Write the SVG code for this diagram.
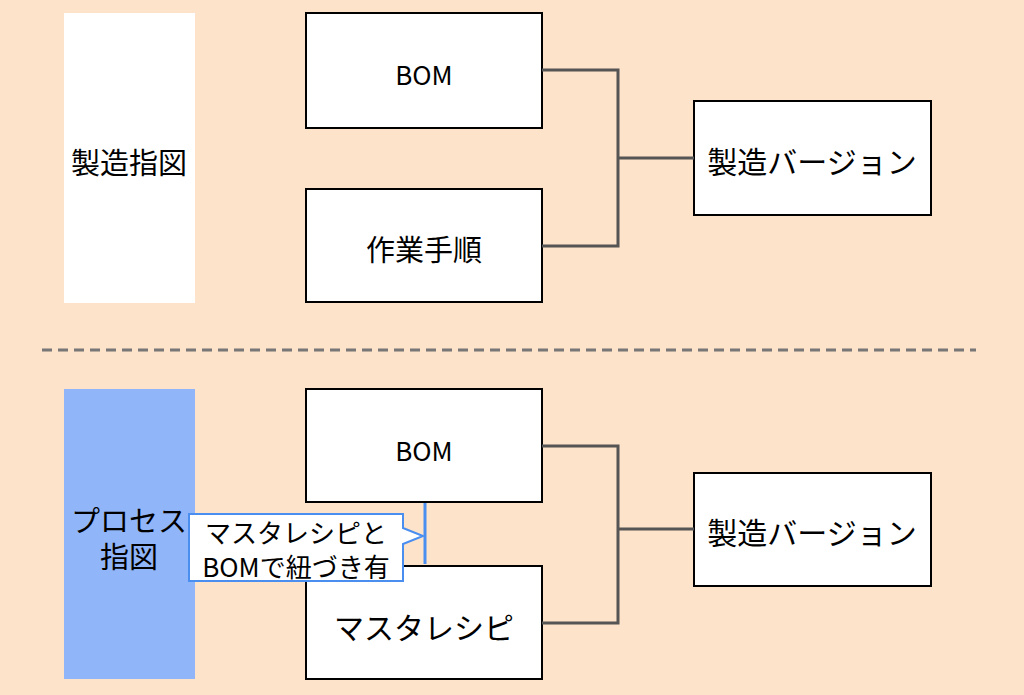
<svg xmlns="http://www.w3.org/2000/svg" width="1024" height="695" viewBox="0 0 1024 695">
<style>
.box{fill:#fff;stroke:#000;stroke-width:2}
.t{font-family:"Noto Sans CJK JP","Noto Sans",sans-serif;font-size:30px;fill:#000;text-anchor:middle;dominant-baseline:central}
.c{fill:none;stroke:#555;stroke-width:3}
</style>
<rect width="1024" height="695" fill="#fce3c9"/>
<g id="seizo-shizu"><rect x="64" y="13" width="131" height="290" fill="#fff"/><text class="t" x="129" y="161" style="font-size:29px">製造指図</text></g>
<g id="bom1"><rect class="box" x="306" y="13" width="236" height="115"/><text class="t" x="424" y="73" style="font-size:26px">BOM</text></g>
<g id="sagyo"><rect class="box" x="306" y="189" width="236" height="113"/><text class="t" x="424" y="248" style="font-size:29px">作業手順</text></g>
<g id="ver1"><rect class="box" x="694" y="101" width="237" height="114"/><text class="t" x="812" y="160">製造バージョン</text></g>
<line x1="42" y1="350" x2="976" y2="350" stroke="#777" stroke-width="3" stroke-dasharray="10,6"/>
<g id="process-shizu"><rect x="64" y="389" width="131" height="290" fill="#91b5f9"/><text class="t" x="129" y="519" style="font-size:29px">プロセス</text><text class="t" x="129" y="555" style="font-size:29px">指図</text></g>
<g id="bom2"><rect class="box" x="306" y="389" width="236" height="113"/><text class="t" x="424" y="449" style="font-size:26px">BOM</text></g>
<g id="master"><rect class="box" x="306" y="566" width="236" height="113"/><text class="t" x="424" y="626">マスタレシピ</text></g>
<g id="ver2"><rect class="box" x="694" y="473" width="237" height="113"/><text class="t" x="812" y="531">製造バージョン</text></g>
<g id="connectors">
<path class="c" d="M542 70H618V246H542M618 158H694"/>
<path class="c" d="M542 446H618V623H542M618 529H694"/>
</g>
<g id="callout">
<line x1="425" y1="503" x2="425" y2="564" stroke="#4a8ef0" stroke-width="3"/>
<path d="M189 514H403V528L423 536L403 544V581H189Z" fill="#fff" stroke="#4a8ef0" stroke-width="2"/>
<text class="t" x="296" y="531" style="font-size:26px">マスタレシピと</text>
<text class="t" x="296" y="565" style="font-size:26px">BOMで紐づき有</text>
</g>
</svg>
